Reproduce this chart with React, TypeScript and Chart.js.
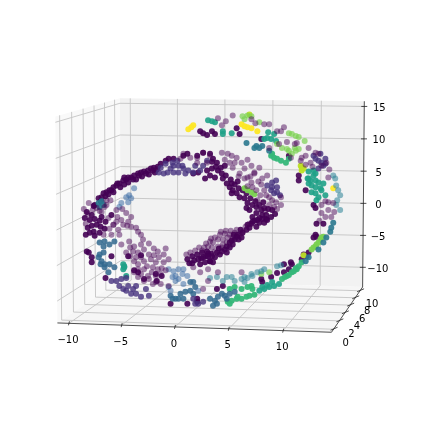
import React, { useEffect, useRef } from "react";
import { Chart, registerables } from "chart.js";
Chart.register(...registerables);

type P = [number, number];

// tick labels and axis limits of the 3D box
const xTicks = [-10, -5, 0, 5, 10];
const yTicks = [0, 2, 4, 6, 8, 10];
const zTicks = [-10, -5, 0, 5, 10, 15];
const xLim = [-11.1, 14.4];
const yLim = [-0.7, 11.1];
const zLim = [-13.1, 15.8];

// points, on the projected plane, by colour and depth
const darkBack: P[] = [[4.9,5.3],[5.5,5.2],[5.9,5],[6.4,4.8],[6.9,4.3],[7.5,4.6],[7.9,4],[8.7,3.8],[8.2,3.3],[7.2,3.7],[6.2,4.3],[5.7,4.3],[7.5,2.8],[8.2,3.2],[9.5,3],[9,2.7],[7.9,2.3],[8.4,1.5],[9.2,1.5],[9.7,.8],[10.4,.3],[10.9,0],[10.2,-.2],[9.7,0],[10.9,.8],[8.5,.5],
[5.2,4.6],[6,3.8],[6.7,3.2],[7.2,2.7],[6.6,2.9],[7.8,2.9],[8.6,2.4],[8.9,2.1],[8,1.8],[7.5,1.9],[8.8,1],[9.4,1],[10,.5],[10.5,-.4],[9.3,-.6],
[4.7,-3],[5.2,-2.9],[5.7,-3],[6.2,-2.8],[6.7,-3],[7,-2.7],[4.5,-3.5],[5,-3.5],[5.5,-3.3],[6,-3.3],[4,-3.8],[4.5,-4.2],[5,-4],[5.4,-3.8],[3.9,-4.3],[4.2,-4.7],[4.9,-4.3],[3.7,-3.7],
[3.3,-3.9],[3.1,-4.3],[2.6,-4.3],[2.2,-4.6],[1.7,-4.8],[1.3,-5],[3.5,-4.2],[2.9,-4.6],[5.8,-2.6],[6.4,-2.5],[7.3,-2.2],[7.7,-1.9],[4.2,-3.3],[3.8,-3.4],[4.8,-2.7],[5.3,-2.6],[2,-6.3],[2.7,-6.8],[3,-8.5],[3.5,-7.7],[3.5,-6.5],
[-6.1,-2],[-5.6,-2.5],[-5.1,-2],[-4.6,-1.7],[-5.5,-3],[-4.3,-2.2],[-3.6,-2.7],[-5.8,-1.7],
[-5.3,-4],[-4.5,-3.7],[-4,-4.2],[-3.3,-4],[-2.5,-3.9],[-4.8,-4.8],[-4.1,-4.7],[-3.6,-4.8],[-3,-4.5],[-2.5,-5],[-3.3,-5.3],[-4,-5.7],[-3,-5.7],[-2.3,-5.5],[-1.6,-4.7],[-1,-5],[-.5,-5.5],[-1.5,-5.3],[-1,-5.8],[-1.8,-5.8],[-1.6,-6.5],[-2.1,-6.3],[-3,-6.5],[-3.6,-6.5],[-4,-6.8],[-3.3,-7],[-2.6,-7.2],[-3.6,-7.3],[-3,-7.7],[-1.8,-7.2],[-1.3,-7],[-1.8,-7.8],[-1.3,-8],[-.5,-8.2],[-2.1,-8],[-2.5,-7.5],
[-4.4,-5.2],[-3.8,-5.3],[-3.6,-6],[-2.7,-6.2],[-2.2,-6.8],[-1.2,-6.4],[-.8,-6.6],[-.8,-4.4],[-2,-4.4],[-4.4,-4.3],[-3.1,-3.5],[-2,-5.1],
[-7.8,-.3],[-6.8,0],[-5.8,-.5],[-4.8,-.8],[-4.3,-1.2],[-5.3,-1.5],[-6.1,-2],[-4.7,-2.1],[-3.8,-2.3],[-3.3,-3],[-6.3,-3],[-6.8,.5],[-7.3,-.7],
[-8.6,.2],[-9.1,-.4],[-8.7,-.9],[-8.9,-1.9],[-8.2,-.5],[-7,-.2],[-6.4,.5],[-5.7,-1.2],[-6.6,-1.3],[-5.2,-.4],[-6.5,-2.4],[-7.1,-3],[-7.5,-.6],
[1,5.2],[1.7,4.8],[2.4,4.8],[3,5.3],[3.7,5],[3.4,4.3],[.7,4.7],[2.4,4.3],
[4.5,8.8],[6,9.1],[9.2,8.2],[9.7,8.2],[10.5,7.5],[10.9,7.5],[9.7,5.8],[10.7,6.2],[11.9,4.8],[12.5,6.3],[12.3,6.2],[13.7,5.8],[12.9,4.5],[13.9,4.3],[14.4,5.3],[13.4,5],[14.7,5.2],[15.5,4.3],[15,4],[15.7,.3],[16.2,.2],[15.4,-1.2],[16,-1.2],[4.5,-6.8],[6.9,-6.8],
[15,0],[15.4,.4],[15.7,-.5],[16.3,-.7],[15,-.8],[14.8,-1.6],[5.3,8.5],[4.9,8.1],[7.9,8.7],[8.3,8.3],[11.2,7.9],[11.5,6.4],[13,4.8],[13.4,4.1],[14.1,3.9],[15.8,3.6],[15.7,2.8]];
const tealBlueBack: P[] = [[16.2,3],[16.4,2.7],[16.5,2],[16.7,1.5],[16.9,1],[16.6,.5],[16.5,0],[16.9,-.5],[3.7,-7.4],[4.4,-7.3],[5,-7.7],[5.4,-7.3],[5.9,-7.3],[6.9,-7.5],[7.2,-7.3],[7.5,-7.4],[8,-7.2],[8.5,-6.8],[8.9,-6.7],[9.2,-6.5],[10.5,-6.2],[10.9,-6.1],[6.2,-7.7],[7.2,-7.8],[7.9,-7]];
const blueBack: P[] = [[-4,1.7],[-4.5,1],[-4.8,.8],[-4.3,.7],[-5.3,.2],[-5.5,-.2],[-4.6,.3],[-.5,-6.5],[0,-6.7],[.5,-6.5],[1,-6.5],[.2,-7.2],[.5,-7.5],[-.1,-7.3],[-.5,-8.3],[.2,-7.7],[.9,-7],[1.4,-7.2],[-.3,-8.7],[1,-8],[2.5,-8.7]];
const lightGreen: P[] = [[11.7,7.3],[12,7.2],[12.4,7],[12.7,6.9],[13.3,6.5],[10.5,6.2],[11,5.8],[11.5,5.7],[11.7,5.5],[12.3,5.8],[12.4,5.5],[12.7,5.7],[12,5.2],[7,9],[7.5,9.1],[7.9,9],[8.7,8.4],[7.2,8.7],[9.7,-6.8],[8.9,-7]];
const indigo: P[] = [[-1.3,3.8],[-.8,4.2],[-.3,3.7],[0,4],[.5,4],[1,3.7],[-.6,3.3],[0,3.3],[.5,3.3],[.9,4],[1.5,3.5],[-1.5,3.3],[-1,3.2],[-.1,4.3],[1.2,3.2],[.4,4.5],[2,3.3],[2.7,3.5],[3,4],[3.4,4.5],[2.2,4],
[14.4,4.7],[14.7,4.5],[15,4.3],[15.4,4.2],[14.7,3.7],[15.2,4],[14.2,5],[14.9,5.2],[15.4,4.7],
[10,2.3],[10.4,2.5],[10.5,1.8],[10.8,1],[10,1.8],[10.2,1.2],[9.5,2],[10.5,1.3],[9.9,1.5],
[-6.3,-7.7],[-5.8,-7.7],[-5.3,-7.5],[-4.8,-7.4],[-5.5,-8.2],[-5.1,-8.5],[-4.6,-8.2],[-4.1,-8.5],[-3.8,-8.2],[-4.3,-9],[-3.8,-9],[-3.3,-9.3],[-2.8,-8.5],[-2.5,-9.2],[-4.8,-8.7],
[2,-9.5],[2.5,-10],[3,-9.8],[2.2,-10]];
const blue: P[] = [[-7.5,-3.8],[-7,-3.7],[-6.5,-4],[-6,-3.7],[-7.1,-4.2],[-7.5,-5],[-7.6,-5.3],[-7.1,-4.8],[-7.3,-5.7],[-7,-6],[-6.5,-6],[-6,-6.3],[-6.6,-6.8],[-7,-6.3],[-7.4,-6],
[-.3,-9.2],[.2,-9.5],[.7,-9],[1.2,-8.8],[1.7,-8.7],[2.2,-8.3],[1.7,-7.8],[2,-7.8],[.5,-9.5],[-.1,-9.5],[2,-9],[1,-9.5],[3.7,-9.5],[4.2,-9.7],[4.5,-9.3],[4.9,-9],[5.2,-9.2],[4,-10.2],[4.4,-10],[5.4,-9.5],[5.7,-9],[6.2,-8.8]];
const tealBlue: P[] = [[8.4,6],[8.7,5.8],[8.2,5.8],[9,6],[7.4,6.3],[9.7,5.5],[13.7,-5.3],[14.7,-4.5],[15.2,-3.8],[15.5,-3.3],[15.9,-2.7],[16,-2.3],[16.2,-1.8],[13.4,-5.7],[-7.6,.2],[-7.3,.4],[-7.5,-.2],[-7.1,0]];
const teal: P[] = [[13.6,2.7],[13.9,2.5],[14.2,3],[14.4,3.2],[13.7,2.2],[14,2],[14.4,1.8],[14.7,2.3],[15.2,2.2],[14,1.3],[14.4,1.2],[14.7,.8],[14.5,.5],[15,1.5],[15.4,1],[13.7,3.4],[14.2,3.5],[14.9,1.7],[14.4,2.5],[13.7,2.7],
[9.2,6.7],[9.5,6.8],[9.9,6.7],[10.2,7.2],[9.6,7.4],[10.4,6.5],[3.9,8.5],[4.2,8.4],[5,7.5],[5.9,7.3],[5,7.2],[3.5,8.6],[-5.1,-6],[-5,-6.3],[-5.1,-6.5],[-4.8,-7.2],[-5,-6.2],
[8.7,-8.7],[9.2,-8.5],[9.7,-8.3],[10.2,-8.2],[10.7,-8],[9,-8.3],[9.5,-8.1],[10,-7.8]];
const green: P[] = [[9.9,5],[10.2,4.8],[10.5,4.7],[10.9,4.5],[11.4,4.3],[11.7,4.7],[10,5.2],
[5.5,-9.8],[5.9,-9.7],[6.4,-9.5],[6.9,-9.5],[7.4,-9.3],[7.7,-9.2],[8.2,-9.1],[6.5,-9.3],[5.7,-10],[6.9,-8.5],[6.2,-8.3],[5.7,-8.5],[7.9,-8.2],[7.5,-8.3],[8,-8.5],
[11.5,-7.2],[12,-6.8],[12.4,-6.4],[12.7,-6.2],[13,-5.8],[11,-7.5],[11.3,-7.3],[11.7,-7.1],[12.2,-6.7],[12.5,-6.5]];
const lime: P[] = [[14,-4.5],[14.4,-4.2],[14.7,-3.8],[14.9,-3.5],[15.2,-3.2],[14.2,-4.3],[14.5,-4],[15,-3.3],[7.2,1.7],[7.5,1.5],[7.9,1.3],[8.2,1.1]];
const yellowGreen: P[] = [[12.9,4],[13,3.8],[13.2,3.7],[13,3.5],[7.7,9.2],[13.2,-5.1]];
const yellow: P[] = [[6.9,8.2],[7.2,8],[7.5,7.9],[7.9,7.8],[8.5,7.5],[16.2,1.7],[1.5,7.7],[1.8,7.9],[2,8.1]];
const darkFront: P[] = [[-8.8,-.7],[-8.1,-.1],[-7.6,.7],[-7.3,.8],[-6.8,1.3],[-6.5,1.5],[-6.1,1.8],[-5.8,2],[-5.5,2.2],[-5.1,2.5],[-4.8,2.6],[-4.6,2.8],[-4.3,2.8],[-4,3],[-3.6,3.2],[-3.3,3.3],[-3,3.4],[-2.6,3.5],[-2.3,3.7],[-2,3.8],[-1.6,3.9],[-1.3,4.2],[-.8,4.5],[-.5,4.7],[0,4.7],[1,5],[1.4,5.2],[2.4,5],[3,5.3],[3.2,2.7],[2,3.2],[2.5,3.3],[3.4,3.5],[-7.1,1.2],[-6.3,1.5],[-5.7,2.2],[-5,2.8],[-4.1,2.6],[-3.5,3],[-2.8,3.2],[-2.1,3.5],
[-8,0],[-7.4,.4],[-6.9,.9],[-6.6,1.1],[-6.1,1.3],[-5.4,1.8],[-5,2.1],[-4.6,2.3],[-3.8,2.6],[-3.2,2.9],[-2.5,3.1],[-1.9,3.3],[-1.7,3.6],
[-8.9,-3],[-8.5,-2.8],[-8.1,-2.7],[-8.7,-2.3],[-8.3,-2.1],[-7.8,-2],[-7.4,-2.2],[-7,-2.4],[-8,-3.1],[-7.5,-2.8],[-8.5,-1.5],[-8,-1.4],[-7.5,-1.6],[-6.9,-1.7],[-9,-1.3],[-8.3,-1],[-7.3,-1.2],[-6.3,-1],
[-8.8,-4.7],[-8.6,-4.8],[-8.3,-5.3],[-8.3,-5.8],[-6.9,-7.4],[-6.3,-5.2],[-.3,-10],[1.9,-5.9],[1.4,-10],[2.4,-9.8],[2.4,-9.5],
[3.7,5.2],[4,4.7],[4.4,4.3],[3.9,3.7],[4.5,3.5],[4.2,2.8],[3.7,3],[4.9,3.2],[5,2.7],[5.4,2.2],[5.7,1.8],[6,1.5],[5.2,4],[6.4,1.2],[6.7,.8],[5.9,1.2],[7,1.5],[7.2,.7],[7.5,.2],[8,0],[7.7,-.5],[8.4,-.8],[8.9,-.5],[9.4,-1],[8.7,-1.3],[8,-1.2],[7.4,-.3],[9.9,-1.2],[9.2,-.3],
[3.9,4.4],[4.3,3.9],[4.8,3.8],[5.3,3],[5.8,2.6],[6.2,2.1],[6.6,1.7],[6.5,2.4],[5.9,2.2],[7.4,1.2],[7.8,.7],[8.3,.4],[8.7,0],[9.1,.3],[8.4,-.2],[9.6,-.4],[10.3,-.9],[10,-.5],[9,-1],[8.2,-1.6],[7.9,-1.9],[8.5,-1.5],[9,-1.4],[9.4,-1.4],[6.8,-2.5],[6.1,-3],[6.6,-3.5],[5.9,-3.6],[5.4,-4.2],[4.6,-4.4],[3.8,-4.9],[3.3,-5.2],[2.8,-5.4],[2.1,-5.6],[1.6,-5.9],[3.5,-4.9],
[7.5,-2],[8,-1.7],[8.7,-1.8],[9.2,-1.8],[9.5,-1.5],[8.4,-2.2],[7.7,-2.3],[7,-2.8],[6.5,-3],[7.4,-2.5],[6.2,-3.5],[6.9,-3.3],[5.7,-3.8],[5.2,-4.5],[6,-4],[4.7,-5],[5.4,-4.8],[4.2,-5.3],[3.7,-5.7],[4,-5.8],[4.9,-4.7],[4.4,-4.8],[6.4,-3.2],[3.9,-5.2],[5.7,-4.3],
[1.4,-5.5],[1.9,-5.2],[2.4,-5],[2.9,-4.8],[3.4,-4.7],[2.5,-5.5],[3,-5.3],[3.5,-5.2],[3.7,-5.7],[3.2,-5.8],[2.7,-6],
[-4,-6.6],[-3.6,-6.8],[-3,-7.5],[-1.8,-7],[-1.7,-7.7],[-1.2,-7.2],[-3.3,-5.1],[-4.6,-5.2],
[4.4,-8.5],[5,-8.2],[8.9,-7.5],[9,-7.8],[9.9,-7.3],[10.5,-6.9],[11.2,-6.8],[11.7,-6.5],[11.9,-5.8],[12,-6],[11.2,-6],[13,-5.5],[13.7,-4.8],[14.5,-1.9],[15.2,-1.9],[14.4,-3],[14.2,-3.3],[14.5,-3.2],[13.2,-5],[13.5,-5.2],
[6.4,7.8],[6.7,7.2],[8.9,6.7],[4.2,7.2],[3.9,7.5],[12.7,3],[12.7,2.5],[13.4,1.5],[14.2,0],[14.4,-.3],[11.7,5],[2.7,7.5],[3,7.3],[3.4,7.1]];

const ELEV = (7 * Math.PI) / 180;
const AZIM = (-79.5 * Math.PI) / 180;
const BOX = [1.1428, 1.1428, 0.857];
const DIST = 8.5;
const ZOOM = 1.02;

function project(x: number, y: number, z: number): P {
  const p = [
    ((x - xLim[0]) / (xLim[1] - xLim[0])) * BOX[0],
    ((y - yLim[0]) / (yLim[1] - yLim[0])) * BOX[1],
    ((z - zLim[0]) / (zLim[1] - zLim[0])) * BOX[2],
  ];
  const n = [Math.cos(ELEV) * Math.cos(AZIM), Math.cos(ELEV) * Math.sin(AZIM), Math.sin(ELEV)];
  const ul = Math.hypot(n[1], n[0]);
  const u = [-n[1] / ul, n[0] / ul, 0];
  const v = [n[1] * u[2] - n[2] * u[1], n[2] * u[0] - n[0] * u[2], n[0] * u[1] - n[1] * u[0]];
  const d = [0, 1, 2].map((i) => p[i] - BOX[i] / 2);
  const depth = DIST - (n[0] * d[0] + n[1] * d[1] + n[2] * d[2]);
  const f = (ZOOM * DIST) / 10;
  const sx = (f * (u[0] * d[0] + u[1] * d[1] + u[2] * d[2])) / depth;
  const sy = (f * (v[0] * d[0] + v[1] * d[1] + v[2] * d[2])) / depth;
  // projected plane of the picture: same units as the point lists
  return [(423 * ((sx + 0.095) / 0.185) - 172) / 10, (205 - 423 * (1 - (sy + 0.095) / 0.185) - 1) / 10];
}

const frame = {
  id: "frame3d",
  beforeDatasetsDraw(chart: any) {
    const { ctx, scales } = chart;
    const pt = (x: number, y: number, z: number): P => {
      const [a, b] = project(x, y, z);
      return [scales.x.getPixelForValue(a), scales.y.getPixelForValue(b)];
    };
    const [x0, x1] = xLim;
    const [y0, y1] = yLim;
    const [z0, z1] = zLim;
    const poly = (pts: P[], fill: string) => {
      ctx.beginPath();
      pts.forEach((p, i) => (i ? ctx.lineTo(p[0], p[1]) : ctx.moveTo(p[0], p[1])));
      ctx.closePath();
      ctx.fillStyle = fill;
      ctx.fill();
    };
    const line = (pts: P[], color: string, w: number) => {
      ctx.beginPath();
      pts.forEach((p, i) => (i ? ctx.lineTo(p[0], p[1]) : ctx.moveTo(p[0], p[1])));
      ctx.strokeStyle = color;
      ctx.lineWidth = w;
      ctx.stroke();
    };
    ctx.save();
    poly([pt(x0, y0, z0), pt(x0, y1, z0), pt(x0, y1, z1), pt(x0, y0, z1)], "#f9f9f9");
    poly([pt(x0, y1, z0), pt(x1, y1, z0), pt(x1, y1, z1), pt(x0, y1, z1)], "#f2f2f2");
    poly([pt(x0, y0, z0), pt(x1, y0, z0), pt(x1, y1, z0), pt(x0, y1, z0)], "#f6f6f6");
    const grid = "#c4c4c4";
    xTicks.forEach((t) => line([pt(t, y0, z0), pt(t, y1, z0), pt(t, y1, z1)], grid, 0.9));
    yTicks.forEach((t) => line([pt(x1, t, z0), pt(x0, t, z0), pt(x0, t, z1)], grid, 0.9));
    zTicks.forEach((t) => line([pt(x1, y1, t), pt(x0, y1, t), pt(x0, y0, t)], grid, 0.9));
    const edge = "#222222";
    line([pt(x0, y0, z0), pt(x1, y0, z0)], edge, 0.8);
    line([pt(x1, y0, z0), pt(x1, y1, z0)], edge, 0.8);
    line([pt(x1, y1, z0), pt(x1, y1, z1)], edge, 0.8);
    ctx.font = '10px "DejaVu Sans"';
    ctx.fillStyle = "#000000";
    ctx.textAlign = "center";
    ctx.textBaseline = "middle";
    const minus = (t: number) => String(t).replace("-", "\u2212");
    xTicks.forEach((t) => {
      const p = pt(t, y0, z0);
      line([[p[0] + 0.5, p[1] - 2], [p[0] - 0.5, p[1] + 2]], edge, 0.8);
      ctx.fillText(minus(t), p[0] - 1, p[1] + 17);
    });
    yTicks.forEach((t) => {
      const p = pt(x1, t, z0);
      line([[p[0] - 3, p[1] + 1], [p[0] + 4, p[1] - 2]], edge, 0.8);
      ctx.fillText(minus(t), p[0] + 12, p[1] + 14);
    });
    zTicks.forEach((t) => {
      const p = pt(x1, y1, t);
      line([[p[0] - 3, p[1]], [p[0] + 3, p[1]]], edge, 0.8);
      ctx.fillText(minus(t), p[0] + 15, p[1] + 2);
    });
    ctx.restore();
  },
};

const groups: { data: P[]; color: string }[] = [
  { data: darkBack, color: "rgba(68,1,84,0.48)" },
  { data: tealBlueBack, color: "rgba(42,130,150,0.55)" },
  { data: blueBack, color: "rgba(62,110,165,0.55)" },
  { data: lightGreen, color: "rgba(122,209,81,0.7)" },
  { data: indigo, color: "rgba(70,50,126,0.8)" },
  { data: blue, color: "rgba(49,104,142,0.85)" },
  { data: tealBlue, color: "rgba(42,120,142,0.9)" },
  { data: teal, color: "rgba(31,161,135,0.9)" },
  { data: green, color: "rgba(53,183,121,0.95)" },
  { data: lime, color: "rgba(122,209,81,0.95)" },
  { data: yellowGreen, color: "rgba(190,223,38,0.95)" },
  { data: yellow, color: "rgba(253,231,37,0.95)" },
  { data: darkFront, color: "rgba(68,1,84,0.9)" },
];

export default function App() {
  const ref = useRef<HTMLCanvasElement | null>(null);
  useEffect(() => {
    document.body.style.margin = "0";
    const chart = new Chart(ref.current as HTMLCanvasElement, {
      type: "scatter",
      data: {
        datasets: groups.map((g) => ({
          data: g.data.map(([x, y]) => ({ x, y })),
          backgroundColor: g.color,
          borderWidth: 0,
          pointRadius: 3,
          pointHoverRadius: 3,
        })),
      },
      options: {
        responsive: false,
        animation: false,
        layout: { padding: 0 },
        plugins: { legend: { display: false }, tooltip: { enabled: false } },
        scales: {
          x: { type: "linear", min: -17.3, max: 25, display: false },
          y: { type: "linear", min: -21.8, max: 20.5, display: false },
        },
      },
      plugins: [frame],
    } as any);
    return () => chart.destroy();
  }, []);
  return <canvas ref={ref} width={423} height={423} style={{ display: "block", filter: "blur(0.5px)" }} />;
}
